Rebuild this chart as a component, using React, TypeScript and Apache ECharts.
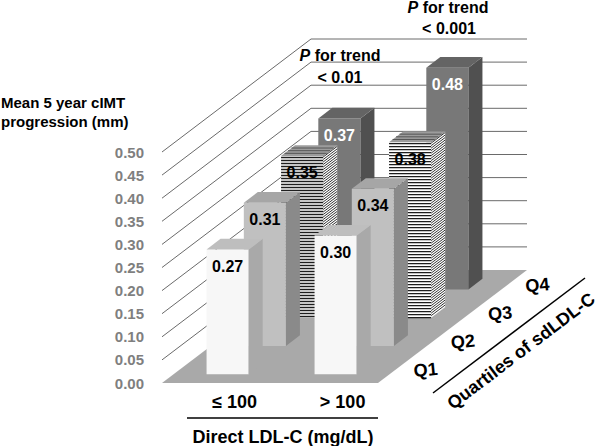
import React, { useEffect, useRef } from 'react';
import * as echarts from 'echarts';

const groups = ['≤ 100', '> 100'];
const quartiles = ['Q1', 'Q2', 'Q3', 'Q4'];
const ldlLow = [0.27, 0.31, 0.35, 0.37];
const ldlHigh = [0.3, 0.34, 0.38, 0.48];
const yTicks = [0.05, 0.1, 0.15, 0.2, 0.25, 0.3, 0.35, 0.4, 0.45, 0.5];
const trendNotes = ['< 0.01', '< 0.001'];

const FONT = '"Liberation Sans", Arial, Helvetica, sans-serif';
const DEPTH = [149, -113];
const BAR_W = 0.39;
const BAR_D = 0.094;

const faceStyles = [
  { front: '#f7f7f7', side: '#a9a9a9', top: '#bebebe', label: '#000', stripes: false },
  { front: '#c0c0c0', side: '#8a8a8a', top: '#a6a6a6', label: '#000', stripes: false },
  { front: '#ffffff', side: '#ffffff', top: '#9c9c9c', label: '#000', stripes: true },
  { front: '#787878', side: '#505050', top: '#646464', label: '#fff', stripes: false },
];

export default function App() {
  const ref = useRef<HTMLDivElement>(null);
  useEffect(() => {
    if (!ref.current) return;
    const chart = echarts.init(ref.current, undefined, { renderer: 'svg' });
    const seriesByGroup = [ldlLow, ldlHigh];
    const barData: number[][] = [];
    for (let q = quartiles.length - 1; q >= 0; q--) {
      for (let g = 0; g < groups.length; g++) barData.push([g, q, seriesByGroup[g][q]]);
    }
    const nq = quartiles.length;

    const option: any = {
      animation: false,
      grid: { left: 162, right: 222, top: 152, bottom: 63 },
      xAxis: { type: 'value', min: 0, max: 2, show: false },
      yAxis: {
        type: 'value', min: 0, max: 0.5, interval: 0.05,
        axisLine: { show: false }, axisTick: { show: false }, splitLine: { show: false },
        axisLabel: {
          margin: 18, color: '#7f7f7f', fontWeight: 'bold', fontSize: 15, fontFamily: FONT,
          formatter: (v: number) => v.toFixed(2),
        },
      },
      series: [
        {
          type: 'custom', name: 'floor', z: 1, silent: true,
          data: [[0, 0]],
          renderItem: (_p: any, api: any) => {
            const a = api.coord([0, 0]);
            const b = api.coord([groups.length, 0]);
            return {
              type: 'polygon',
              shape: { points: [a, b, [b[0] + DEPTH[0], b[1] + DEPTH[1]], [a[0] + DEPTH[0], a[1] + DEPTH[1]]] },
              style: { fill: '#a9a9a9' },
            };
          },
        },
        {
          type: 'custom', name: 'grid', z: 2, silent: true,
          data: yTicks.map((v) => [0, v]),
          renderItem: (_p: any, api: any) => {
            const v = api.value(1);
            const a = api.coord([0, v]);
            const b = api.coord([groups.length, v]);
            return {
              type: 'polyline',
              shape: { points: [a, [a[0] + DEPTH[0], a[1] + DEPTH[1]], [b[0] + DEPTH[0], b[1] + DEPTH[1]]] },
              style: { stroke: '#6a6a6a', lineWidth: 1, fill: 'none' },
            };
          },
        },
        {
          type: 'custom', name: 'bars', z: 3, silent: true,
          data: barData,
          renderItem: (_p: any, api: any) => {
            const g = api.value(0), q = api.value(1), v = api.value(2);
            const tc = (q + 0.5) / nq;
            const t0 = tc - BAR_D / 2;
            const bl = api.coord([g + 0.5 - BAR_W / 2, 0]);
            const br = api.coord([g + 0.5 + BAR_W / 2, 0]);
            const tl = api.coord([g + 0.5 - BAR_W / 2, v]);
            const ox = DEPTH[0] * t0, oy = DEPTH[1] * t0;
            const x0 = bl[0] + ox, x1 = br[0] + ox, yb = bl[1] + oy, yt = tl[1] + oy;
            const dx = DEPTH[0] * BAR_D, dy = DEPTH[1] * BAR_D;
            const s = faceStyles[q];
            const children: any[] = [];
            children.push({ type: 'rect', shape: { x: x0, y: yt, width: x1 - x0, height: yb - yt }, style: { fill: s.front } });
            if (s.stripes) {
              for (let y = yt + 1.5; y < yb; y += 3) {
                children.push({ type: 'line', shape: { x1: x0, y1: y, x2: x1, y2: y }, style: { stroke: '#1e1e1e', lineWidth: 1.3 } });
              }
            }
            children.push({
              type: 'polygon',
              shape: { points: [[x1, yt], [x1 + dx, yt + dy], [x1 + dx, yb + dy], [x1, yb]] },
              style: { fill: s.side },
            });
            if (s.stripes) {
              for (let y = yt + 1; y < yb; y += 2.5) {
                children.push({ type: 'line', shape: { x1: x1, y1: y, x2: x1 + dx, y2: y + dy }, style: { stroke: '#333', lineWidth: 1 } });
              }
            }
            children.push({
              type: 'polygon',
              shape: { points: [[x0, yt], [x1, yt], [x1 + dx, yt + dy], [x0 + dx, yt + dy]] },
              style: { fill: s.top },
            });
            if (s.stripes) {
              for (let k = 1; k < 4; k++) {
                const f = k / 4;
                children.push({ type: 'line', shape: { x1: x0 + dx * f, y1: yt + dy * f, x2: x1 + dx * f, y2: yt + dy * f }, style: { stroke: '#555', lineWidth: 1 } });
              }
            }
            children.push({
              type: 'text',
              style: {
                text: v.toFixed(2), x: (x0 + x1) / 2, y: yt + 17,
                align: 'center', verticalAlign: 'middle',
                font: `bold 16px ${FONT}`, fill: s.label,
              },
            });
            return { type: 'group', children };
          },
        },
        {
          type: 'custom', name: 'qLabels', z: 4, silent: true,
          data: quartiles.map((_, i) => [groups.length, 0, i]),
          renderItem: (_p: any, api: any) => {
            const i = api.value(2);
            const p = api.coord([groups.length, 0]);
            const tc = (i + 0.5) / nq;
            return {
              type: 'text',
              x: p[0] + DEPTH[0] * tc + 29, y: p[1] + DEPTH[1] * tc + 1,
              rotation: 0.1,
              style: {
                text: quartiles[i], x: 0, y: 0, align: 'center', verticalAlign: 'middle',
                font: `bold 18px ${FONT}`, fill: '#000',
              },
            };
          },
        },
        {
          type: 'custom', name: 'groupLabels', z: 4, silent: true,
          data: groups.map((_, i) => [i + 0.5, 0, i]),
          renderItem: (_p: any, api: any) => {
            const i = api.value(2);
            const p = api.coord([i + 0.5, 0]);
            const tc = 0.5 / nq;
            return {
              type: 'text',
              style: {
                text: groups[i], x: p[0] + DEPTH[0] * tc, y: p[1] + 19,
                align: 'center', verticalAlign: 'middle',
                font: `bold 18px ${FONT}`, fill: '#000',
              },
            };
          },
        },
      ],
      graphic: [
        {
          type: 'text', left: 1, top: 93,
          style: {
            text: 'Mean 5 year cIMT\nprogression (mm)', font: `bold 15px ${FONT}`, fill: '#000', lineHeight: 19,
          },
        },
        {
          type: 'text', x: 340, y: 55,
          style: {
            text: '{i|P}{b| for trend}', align: 'center', verticalAlign: 'middle',
            rich: {
              i: { font: `italic bold 16px ${FONT}`, fill: '#000' },
              b: { font: `bold 16px ${FONT}`, fill: '#000' },
            },
          },
        },
        {
          type: 'text', x: 340, y: 77,
          style: { text: trendNotes[0], align: 'center', verticalAlign: 'middle', font: `bold 16px ${FONT}`, fill: '#000' },
        },
        {
          type: 'text', x: 448, y: 7,
          style: {
            text: '{i|P}{b| for trend}', align: 'center', verticalAlign: 'middle',
            rich: {
              i: { font: `italic bold 16px ${FONT}`, fill: '#000' },
              b: { font: `bold 16px ${FONT}`, fill: '#000' },
            },
          },
        },
        {
          type: 'text', x: 449, y: 28,
          style: { text: trendNotes[1], align: 'center', verticalAlign: 'middle', font: `bold 16px ${FONT}`, fill: '#000' },
        },
        {
          type: 'line', shape: { x1: 187, y1: 418, x2: 378, y2: 418 },
          style: { stroke: '#000', lineWidth: 1.5 },
        },
        {
          type: 'text', x: 283, y: 437,
          style: { text: 'Direct LDL-C (mg/dL)', align: 'center', verticalAlign: 'middle', font: `bold 18px ${FONT}`, fill: '#000' },
        },
        {
          type: 'line', shape: { x1: 433, y1: 393, x2: 585, y2: 278 },
          style: { stroke: '#000', lineWidth: 1.5 },
        },
        {
          type: 'text', x: 521, y: 351, rotation: 0.648,
          style: { text: 'Quartiles of sdLDL-C', x: 0, y: 0, align: 'center', verticalAlign: 'middle', font: `bold 18px ${FONT}`, fill: '#000' },
        },
      ],
    };
    chart.setOption(option);
    return () => chart.dispose();
  }, []);
  return <div ref={ref} style={{ position: 'absolute', left: 0, top: 0, width: 600, height: 446, background: '#fff' }} />;
}
